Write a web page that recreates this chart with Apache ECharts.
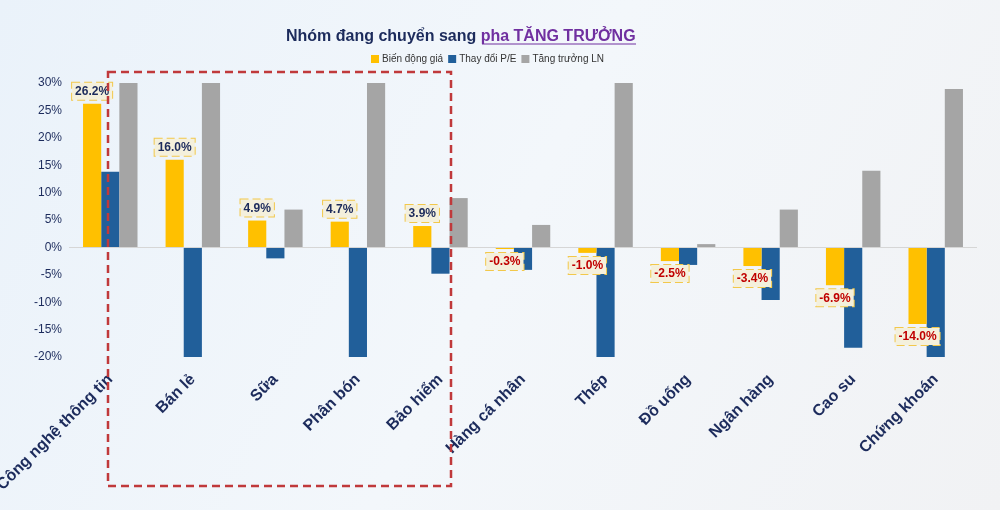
<!DOCTYPE html>
<html>
<head>
<meta charset="utf-8">
<script src="https://cdn.jsdelivr.net/npm/echarts@6/dist/echarts.min.js"></script>
<style>
  html, body { margin: 0; padding: 0; }
  #main { width: 1000px; height: 510px; }
</style>
</head>
<body>
<div id="main"></div>
<script>
// nhóm ngành
const sectors = ['Công nghệ thông tin', 'Bán lẻ', 'Sữa', 'Phân bón', 'Bảo hiểm', 'Hàng cá nhân', 'Thép', 'Đồ uống', 'Ngân hàng', 'Cao su', 'Chứng khoán'];
// Biến động giá (%)
const priceChange = [26.2, 16.0, 4.9, 4.7, 3.9, -0.3, -1.0, -2.5, -3.4, -6.9, -14.0];
// Thay đổi P/E (%)
const peChange = [13.8, -20, -2.0, -20, -4.8, -4.1, -20, -3.2, -9.6, -18.3, -20];
// Tăng trưởng LN (%)
const profitGrowth = [30, 30, 6.9, 30, 9.0, 4.1, 30, 0.6, 6.9, 14.0, 28.9];
// trục tung
const yMin = -20, yMax = 30, yStep = 5;

const navy = '#1c2b5c';
const chartDom = document.getElementById('main');
const myChart = echarts.init(chartDom);

// nhãn của cột giá: dương ở trên, âm ở dưới
const priceData = priceChange.map(v => ({
  value: v,
  label: {
    position: v >= 0 ? 'top' : 'bottom',
    color: v >= 0 ? navy : '#c00000'
  }
}));

const option = {
  backgroundColor: new echarts.graphic.LinearGradient(0, 0, 1, 1, [
    { offset: 0, color: '#eaf2fa' },
    { offset: 0.5, color: '#f3f7fb' },
    { offset: 1, color: '#f1f2f4' }
  ]),
  textStyle: { fontFamily: 'Liberation Sans, Arial, sans-serif' },
  title: {
    left: 281,
    top: 24,
    text: '{a|Nhóm đang chuyển sang }{b|pha TĂNG TRƯỞNG}',
    textStyle: {
      rich: {
        a: { fontSize: 16, fontWeight: 'bold', color: navy, fontFamily: 'Liberation Sans' },
        b: { fontSize: 16, fontWeight: 'bold', color: '#7030a0', fontFamily: 'Liberation Sans' }
      }
    }
  },
  legend: {
    left: 366,
    top: 49,
    icon: 'rect',
    itemWidth: 8,
    itemHeight: 8,
    itemGap: 5,
    textStyle: { fontSize: 10, color: '#333', padding: [0, 0, 0, -2] },
    data: ['Biến động giá', 'Thay đổi P/E', 'Tăng trưởng LN']
  },
  grid: { left: 69, right: 23, top: 83, bottom: 153, outerBoundsMode: 'none', containLabel: false },
  xAxis: {
    type: 'category',
    data: sectors,
    axisLine: { show: false, onZero: false },
    axisTick: { show: false },
    axisLabel: {
      interval: 0,
      rotate: 45,
      margin: 20,
      fontSize: 16,
      fontWeight: 'bold',
      color: navy
    }
  },
  yAxis: {
    type: 'value',
    min: yMin,
    max: yMax,
    interval: yStep,
    splitLine: { show: false },
    axisLine: { show: false },
    axisTick: { show: false },
    axisLabel: { formatter: '{value}%', fontSize: 12, color: navy, margin: 7 }
  },
  graphic: [
    {
      // gạch chân "pha TĂNG TRƯỞNG"
      type: 'line',
      shape: { x1: 482, y1: 44, x2: 636, y2: 44 },
      style: { stroke: '#7030a0', lineWidth: 1.2 }
    },
    {
      // khung nét đứt đỏ
      type: 'rect',
      z: 100,
      shape: { x: 108, y: 72, width: 343, height: 414 },
      style: { fill: 'none', stroke: '#c0393b', lineWidth: 2.5, lineDash: [8, 5] }
    }
  ],
  series: [
    {
      name: 'Biến động giá',
      type: 'bar',
      barGap: '0%',
      barCategoryGap: '34%',
      data: priceData,
      itemStyle: { color: '#ffc000' },
      label: {
        show: true,
        distance: 4,
        fontSize: 12,
        fontWeight: 'bold',
        formatter: p => p.value.toFixed(1) + '%',
        backgroundColor: '#f4f0dc',
        borderColor: '#f2c84b',
        borderType: 'dashed',
        borderWidth: 1,
        padding: [3, 3, 2, 3]
      },
      markLine: {
        silent: true,
        symbol: 'none',
        label: { show: false },
        lineStyle: { color: '#d6d6d6', type: 'solid', width: 1 },
        data: [{ yAxis: 0 }]
      },
      z: 3
    },
    {
      name: 'Thay đổi P/E',
      type: 'bar',
      data: peChange,
      itemStyle: { color: '#215f9a' }
    },
    {
      name: 'Tăng trưởng LN',
      type: 'bar',
      data: profitGrowth,
      itemStyle: { color: '#a5a5a5' }
    }
  ]
};

myChart.setOption(option);
</script>
</body>
</html>
